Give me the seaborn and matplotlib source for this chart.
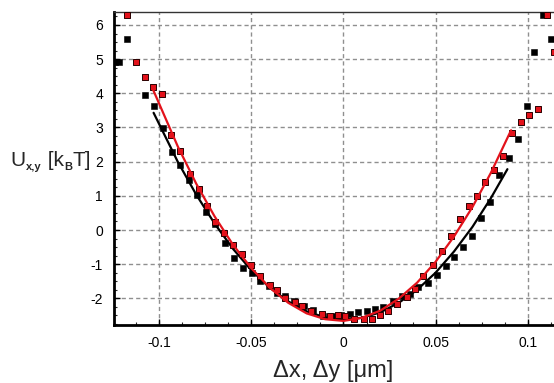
import numpy as np
import pandas as pd
import matplotlib
matplotlib.use("Agg")
import matplotlib.pyplot as plt
from matplotlib.ticker import MultipleLocator, FixedLocator
import seaborn as sns

# ---- data ----
black_x = [-0.1242, -0.1218, -0.1173, -0.1077, -0.1028, -0.0979, -0.0932, -0.0887, -0.0841, -0.0794,
           -0.0745, -0.0700, -0.0646, -0.0597, -0.0546, -0.0497, -0.0452, -0.0407, -0.0362, -0.0317,
           -0.0271, -0.0217, -0.0165, -0.0109, -0.0054, -0.0012, 0.0033, 0.0081, 0.0127, 0.0172,
           0.0217, 0.0271, 0.0317, 0.0362, 0.0407, 0.0461, 0.0507, 0.0556, 0.0601, 0.0648,
           0.0697, 0.0745, 0.0796, 0.0847, 0.0896, 0.0945, 0.0995, 0.1035, 0.1083, 0.1126]
black_y = [4.91, 4.91, 5.58, 3.95, 3.63, 2.98, 2.29, 1.91, 1.47, 1.01,
           0.53, 0.17, -0.37, -0.83, -1.10, -1.27, -1.49, -1.65, -1.83, -1.93,
           -2.08, -2.22, -2.35, -2.51, -2.53, -2.50, -2.46, -2.40, -2.37, -2.30,
           -2.24, -2.08, -1.93, -1.88, -1.68, -1.54, -1.31, -1.06, -0.78, -0.49,
           -0.18, 0.36, 0.82, 1.60, 2.10, 2.65, 3.63, 5.20, 6.29, 5.58]

red_x = [-0.1173, -0.1125, -0.1077, -0.1035, -0.0984, -0.0935, -0.0887, -0.0836, -0.0787, -0.0742,
         -0.0697, -0.0650, -0.0600, -0.0552, -0.0503, -0.0456, -0.0398, -0.0360, -0.0320, -0.0262,
         -0.0226, -0.0175, -0.0117, -0.0072, -0.0029, 0.0009, 0.0058, 0.0109, 0.0154, 0.0199,
         0.0244, 0.0292, 0.0344, 0.0389, 0.0434, 0.0485, 0.0534, 0.0585, 0.0634, 0.0682,
         0.0724, 0.0769, 0.0818, 0.0864, 0.0913, 0.0963, 0.1008, 0.1054, 0.1104, 0.1144]
red_y = [6.29, 4.91, 4.49, 4.19, 3.97, 2.77, 2.31, 1.63, 1.19, 0.69,
         0.23, -0.08, -0.45, -0.71, -1.03, -1.35, -1.62, -1.76, -1.98, -2.12,
         -2.22, -2.38, -2.46, -2.51, -2.49, -2.53, -2.61, -2.61, -2.61, -2.49,
         -2.37, -2.17, -1.95, -1.73, -1.36, -1.02, -0.61, -0.19, 0.33, 0.70,
         1.00, 1.40, 1.75, 2.17, 2.83, 3.17, 3.36, 3.55, 6.29, 5.20]

# fitted curves
fit_red_x = [-0.1035, -0.09, -0.08, -0.07, -0.06, -0.05, -0.04, -0.03, -0.02, -0.01,
             0.0, 0.01, 0.02, 0.03, 0.04, 0.05, 0.06, 0.07, 0.08, 0.091]
fit_red_y = [4.12, 2.45, 1.36, 0.40, -0.43, -1.12, -1.69, -2.13, -2.44, -2.61,
             -2.66, -2.57, -2.36, -2.01, -1.54, -0.93, -0.19, 0.67, 1.67, 2.92]
fit_black_x = [-0.1031, -0.09, -0.08, -0.07, -0.06, -0.05, -0.04, -0.03, -0.02, -0.01,
               0.0, 0.01, 0.02, 0.03, 0.04, 0.05, 0.06, 0.07, 0.08, 0.089]
fit_black_y = [3.43, 2.00, 1.04, 0.19, -0.55, -1.18, -1.69, -2.09, -2.38, -2.56,
               -2.62, -2.57, -2.41, -2.13, -1.75, -1.25, -0.63, 0.09, 0.93, 1.78]

x_ticks = [-0.1, -0.05, 0, 0.05, 0.1]
x_ticklabels = ["-0.1", "-0.05", "0", "0.05", "0.1"]
y_ticks = [-2, -1, 0, 1, 2, 3, 4, 5, 6]
y_ticklabels = ["-2", "-1", "0", "1", "2", "3", "4", "5", "6"]

# ---- style ----
sns.set_style("white")
plt.rcParams["font.family"] = ["Liberation Sans", "DejaVu Sans"]

RED = "#e3121b"

fig = plt.figure(figsize=(5.54, 3.83), dpi=100)
ax = fig.add_axes([114 / 554, 58 / 383, 1 - 114 / 554, 313 / 383])

df_b = pd.DataFrame({"x": black_x, "y": black_y})
df_r = pd.DataFrame({"x": red_x, "y": red_y})
df_fb = pd.DataFrame({"x": fit_black_x, "y": fit_black_y})
df_fr = pd.DataFrame({"x": fit_red_x, "y": fit_red_y})

sns.scatterplot(data=df_b, x="x", y="y", ax=ax, marker="s", s=19, color="black",
                edgecolor="black", linewidth=0.4, zorder=3)
sns.lineplot(data=df_fb, x="x", y="y", ax=ax, color="black", linewidth=1.6,
             sort=False, zorder=4)
sns.scatterplot(data=df_r, x="x", y="y", ax=ax, marker="s", s=19, color=RED,
                edgecolor="#2a0000", linewidth=0.7, zorder=5)
sns.lineplot(data=df_fr, x="x", y="y", ax=ax, color=RED, linewidth=1.6,
             sort=False, zorder=6)

ax.set_xlim(-0.1246, 0.1143)
ax.set_ylim(-2.78, 6.38)

ax.xaxis.set_major_locator(FixedLocator(x_ticks))
ax.set_xticklabels(x_ticklabels)
ax.yaxis.set_major_locator(FixedLocator(y_ticks))
ax.set_yticklabels(y_ticklabels)
ax.xaxis.set_minor_locator(MultipleLocator(0.0125))
ax.yaxis.set_minor_locator(MultipleLocator(0.25))

ax.tick_params(axis="both", which="major", direction="in", length=4, width=1,
               labelsize=10, colors="black", pad=8, bottom=True, left=True)
ax.tick_params(axis="both", which="minor", direction="in", length=2.5, width=0.8,
               bottom=True, left=True)

ax.grid(True, which="major", color="#8f8f8f", linestyle=(0, (3, 2.2)), linewidth=1.0)

for side in ["left", "bottom"]:
    ax.spines[side].set_linewidth(2.0)
    ax.spines[side].set_color("black")
ax.spines["top"].set_linewidth(1.0)
ax.spines["top"].set_color("#333333")
ax.spines["right"].set_visible(False)

ax.set_xlabel("")
ax.set_ylabel("")

fig.text(333 / 554, 1 - 371 / 383, "Δx, Δy [μm]", ha="center", va="center", fontsize=17)

# y label assembled from pieces: U_{x,y} [k_B T]
renderer = fig.canvas.get_renderer()
pieces = [("U", 15, "normal", 0), ("x,y", 8, "bold", -3.5), (" [k", 15, "normal", 0),
          ("B", 8, "bold", -3.5), ("T]", 15, "normal", 0)]
x_px = 10.0
base_px = 383 - 166.0
for txt, fs, fw, dy in pieces:
    t = fig.text(x_px / 554, (base_px + dy) / 383, txt, fontsize=fs, fontweight=fw,
                 ha="left", va="baseline")
    bb = t.get_window_extent(renderer=renderer)
    x_px += bb.width + 0.5

fig.savefig("out.png", dpi=100)
